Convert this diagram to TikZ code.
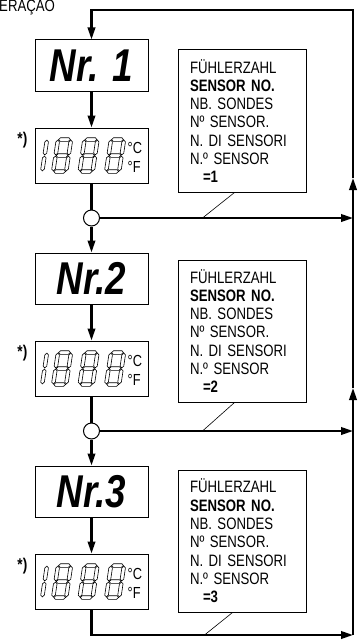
\documentclass[tikz,border=0pt]{standalone}
\usepackage{fontspec}
\setmainfont{Liberation Sans}
\newfontfamily\segfont{Liberation Sans}[FakeStretch=0.8]
\newfontfamily\condfont{Liberation Sans}[FakeStretch=0.8]
\usetikzlibrary{arrows.meta,positioning,calc}

% one outlined segment of a display digit: x, y, length
\newcommand{\drawhseg}[3]{\draw[segline] (#1,#2) -- ++(1.8,-1.8) -- ++({#3-3.6},0) -- ++(1.8,1.8) -- ++(-1.8,1.8) -- ++({-#3+3.6},0) -- cycle;}
\newcommand{\drawvseg}[3]{\draw[segline] (#1,#2) -- ++(1.8,1.8) -- ++(0,{#3-3.6}) -- ++(-1.8,1.8) -- ++(-1.8,-1.8) -- ++(0,{-#3+3.6}) -- cycle;}
\newcommand{\drawdigit}{%
  \drawhseg{0.6}{0}{11.8}\drawhseg{0.6}{16}{11.8}\drawhseg{0.6}{32}{11.8}%
  \drawvseg{0}{0.6}{14.8}\drawvseg{13}{0.6}{14.8}%
  \drawvseg{0}{16.6}{14.8}\drawvseg{13}{16.6}{14.8}}

\begin{document}
\begin{tikzpicture}[
    x=1pt, y=-1pt,
    lcd/.style={draw, line width=1pt, minimum width=113pt, inner sep=0pt},
    nrbox/.style={lcd, minimum height=51pt, font=\segfont\bfseries\itshape\fontsize{46}{46}\selectfont},
    dispbox/.style={lcd, minimum height=55pt},
    junction/.style={circle, draw, line width=1pt, minimum size=16pt, inner sep=0pt, fill=white},
    sensorbox/.style={draw, line width=1pt, text width=104pt, inner xsep=12pt, minimum height=142pt, align=left, font=\condfont\fontsize{16.5}{18.3}\selectfont},
    note/.style={font=\condfont\bfseries\fontsize{17}{17}\selectfont, inner sep=0pt, anchor=north east},
    unit/.style={font=\segfont\fontsize{16}{16}\selectfont, inner sep=0pt, anchor=base west},
    segline/.style={line width=0.6pt, fill=white},
    wire/.style={line width=2.2pt},
    flow/.style={wire, -{Triangle[length=12pt,width=7.5pt]}},
    leader/.style={line width=0.6pt},
    readout/.pic={
        \begin{scope}[shift={(12.5,12)}, xslant=0.15]
            \drawvseg{0}{0.6}{14.8}\drawvseg{0}{16.6}{14.8}
        \end{scope}
        \foreach \dx in {23.5,50,76.5}{
            \begin{scope}[shift={(\dx,12)}, xslant=0.15]
                \drawdigit
            \end{scope}}
        \node[unit] at (93,26) {°C};
        \node[unit] at (93,45) {°F};
    }
]
\useasboundingbox (0,0) rectangle (358,642);

% Title
\node[anchor=base west, inner sep=0pt, font=\condfont\fontsize{16.5}{17}\selectfont] (title) at (-1,12) {ERAÇAO};

% Sensor 1
\node[nrbox] (nr1) at (91.5,65.5) {Nr. 1};
\node[dispbox, below=36pt of nr1] (disp1) {};
\pic at (disp1.north west) {readout};
\node[note] (star1) at ([xshift=-7pt,yshift=-4pt]disp1.north west) {*)};
\node[junction, below=26pt of disp1] (j1) {};

% Sensor 2
\node[nrbox, below=26pt of j1] (nr2) {Nr.2};
\node[dispbox, below=36pt of nr2] (disp2) {};
\pic at (disp2.north west) {readout};
\node[note] (star2) at ([xshift=-7pt,yshift=-4pt]disp2.north west) {*)};
\node[junction, below=26pt of disp2] (j2) {};

% Sensor 3
\node[nrbox, below=26pt of j2] (nr3) {Nr.3};
\node[dispbox, below=36pt of nr3] (disp3) {};
\pic at (disp3.north west) {readout};
\node[note] (star3) at ([xshift=-7pt,yshift=-4pt]disp3.north west) {*)};

% Text boxes
\node[sensorbox] (info1) at (242,121) {FÜHLERZAHL\\\textbf{SENSOR NO.}\\NB. SONDES\\Nº SENSOR.\\N. DI SENSORI\\N.º SENSOR\\\hspace*{13pt}\textbf{=1}};
\node[sensorbox] (info2) at (242,331) {FÜHLERZAHL\\\textbf{SENSOR NO.}\\NB. SONDES\\Nº SENSOR.\\N. DI SENSORI\\N.º SENSOR\\\hspace*{13pt}\textbf{=2}};
\node[sensorbox] (info3) at (242,541) {FÜHLERZAHL\\\textbf{SENSOR NO.}\\NB. SONDES\\Nº SENSOR.\\N. DI SENSORI\\N.º SENSOR\\\hspace*{13pt}\textbf{=3}};

% Loop corners
\coordinate (loopstart) at (91.5,10);
\coordinate (railtop) at (353,10);
\coordinate (up1) at (353,178);
\coordinate (up2) at (353,388);
\coordinate (railbot) at (353,635);
\coordinate (loopend) at (91.5,635);

% Connections
\draw[flow] (nr1) -- (disp1);
\draw[wire] (disp1) -- (j1);
\draw[flow] (j1) -- (nr2);
\draw[flow] (nr2) -- (disp2);
\draw[wire] (disp2) -- (j2);
\draw[flow] (j2) -- (nr3);
\draw[flow] (nr3) -- (disp3);

\draw[flow] (j1) -- (j1 -| railtop);
\draw[flow] (j2) -- (j2 -| railtop);
\draw[flow] (disp3) -- (loopend) -- (railbot);
\draw[flow] (railbot) -- (up2);
\draw[flow] (up2) -- (up1);
\draw[flow] (up1) -- (railtop) -- (loopstart) -- (nr1);

% Leaders
\draw[leader] ([xshift=57pt]info1.south west) -- ($(info1.south west |- j1)+(25,0)$);
\draw[leader] ([xshift=57pt]info2.south west) -- ($(info2.south west |- j2)+(25,0)$);
\draw[leader] ([xshift=55pt]info3.south west) -- ($(info3.south west |- railbot)+(27,0)$);

\end{tikzpicture}
\end{document}
